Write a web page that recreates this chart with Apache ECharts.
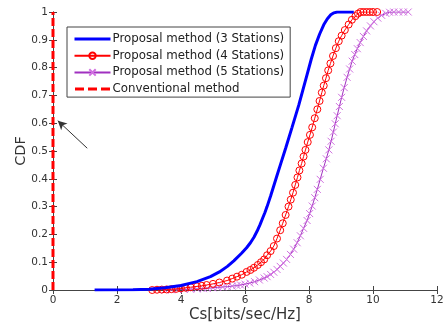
<!DOCTYPE html>
<html><head><meta charset="utf-8">
<script src="https://cdn.jsdelivr.net/npm/echarts@6/dist/echarts.min.js"></script>
<style>html,body{margin:0;padding:0;background:#fff}#c{width:443px;height:329px}</style>
</head><body><div id="c"></div>
<script>
const seriesNames = ['Proposal method (3 Stations)','Proposal method (4 Stations)','Proposal method (5 Stations)','Conventional method'];
const xTicks = [0,2,4,6,8,10,12];
const yTicks = [0,0.1,0.2,0.3,0.4,0.5,0.6,0.7,0.8,0.9,1];
const station3 = [[1.3,0],[2.5,0.001],[3.0,0.003],[3.5,0.008],[4.0,0.016],[4.5,0.03],[4.92,0.048],[5.2,0.065],[5.45,0.085],[5.65,0.105],[5.9,0.133],[6.05,0.152],[6.17,0.17],[6.28,0.19],[6.38,0.212],[6.47,0.235],[6.55,0.258],[6.62,0.278],[6.69,0.3],[6.8,0.338],[6.9,0.375],[7.0,0.412],[7.11,0.452],[7.27,0.51],[7.47,0.585],[7.68,0.665],[7.81,0.72],[7.94,0.775],[8.07,0.83],[8.2,0.88],[8.33,0.92],[8.46,0.954],[8.57,0.975],[8.68,0.99],[8.78,0.997],[8.88,1.0],[9.4,1.0]];
const station4 = [[3.1,0],[3.25,0.001],[3.4,0.0015],[3.55,0.002],[3.7,0.003],[3.85,0.004],[4.0,0.006],[4.15,0.008],[4.3,0.01],[4.5,0.013],[4.65,0.015],[4.8,0.018],[5.0,0.022],[5.2,0.027],[5.44,0.034],[5.6,0.041],[5.75,0.048],[5.9,0.055],[6.05,0.065],[6.17,0.072],[6.28,0.08],[6.4,0.09],[6.5,0.1],[6.6,0.11],[6.69,0.125],[6.8,0.14],[6.9,0.158],[7.0,0.185],[7.1,0.215],[7.18,0.24],[7.27,0.27],[7.36,0.3],[7.43,0.325],[7.5,0.35],[7.57,0.378],[7.64,0.405],[7.7,0.43],[7.77,0.455],[7.83,0.48],[7.89,0.504],[7.96,0.532],[8.03,0.558],[8.1,0.585],[8.18,0.618],[8.26,0.65],[8.33,0.68],[8.4,0.71],[8.46,0.735],[8.53,0.762],[8.6,0.79],[8.67,0.815],[8.75,0.842],[8.84,0.87],[8.93,0.895],[9.02,0.915],[9.12,0.935],[9.24,0.955],[9.34,0.972],[9.45,0.985],[9.53,0.994],[9.61,1.0],[9.7,1.0],[9.8,1.0],[9.9,1.0],[10.0,1.0],[10.13,1.0]];
const station5 = [[3.5,0],[3.7,0.001],[3.9,0.0015],[4.1,0.002],[4.3,0.003],[4.5,0.004],[4.7,0.005],[4.82,0.006],[5.0,0.008],[5.15,0.009],[5.3,0.011],[5.45,0.012],[5.6,0.014],[5.75,0.016],[5.86,0.018],[6.0,0.021],[6.15,0.025],[6.3,0.03],[6.45,0.036],[6.6,0.043],[6.69,0.048],[6.8,0.056],[6.9,0.064],[7.0,0.074],[7.1,0.085],[7.2,0.097],[7.3,0.11],[7.42,0.128],[7.52,0.147],[7.63,0.17],[7.73,0.195],[7.83,0.222],[7.94,0.25],[8.02,0.275],[8.1,0.302],[8.18,0.332],[8.26,0.362],[8.35,0.398],[8.45,0.438],[8.54,0.472],[8.62,0.504],[8.69,0.535],[8.76,0.568],[8.82,0.598],[8.88,0.627],[8.95,0.66],[9.02,0.693],[9.1,0.728],[9.19,0.765],[9.27,0.795],[9.35,0.823],[9.43,0.847],[9.51,0.868],[9.6,0.89],[9.7,0.912],[9.8,0.932],[9.92,0.95],[10.03,0.965],[10.15,0.978],[10.27,0.988],[10.4,0.995],[10.52,0.999],[10.65,1.0],[10.8,1.0],[10.95,1.0],[11.1,1.0]];
const conventional = [[0,0],[0,1]];
const arrowFrom = [1.07,0.51];
const arrowTo = [0.15,0.609];

const FONT = '"DejaVu Sans",sans-serif';
const chart = echarts.init(document.getElementById('c'), null, {renderer:'canvas'});
const axisCommon = {
  axisLine:{show:true,lineStyle:{color:'#444',width:1}},
  axisTick:{show:true,inside:true,length:4,lineStyle:{color:'#444'}},
  splitLine:{show:false}
};
chart.setOption({
  animation:false,
  backgroundColor:'#fff',
  grid:{left:53,right:6,top:12,bottom:39,containLabel:false,outerBoundsMode:'none'},
  legend:{
    orient:'vertical', left:67, top:27,
    backgroundColor:'#fff', borderColor:'#444', borderWidth:1,
    padding:[5,6,1,6.5], itemGap:2.7, itemWidth:36, itemHeight:8,
    symbolKeepAspect:true,
    textStyle:{fontFamily:FONT,fontSize:11.8,lineHeight:14,color:'#222',padding:[0,0,0,-3]},
    data:[
      {name:seriesNames[0],icon:'path://M0,0M0,8M0,2.5L36,2.5L36,5.5L0,5.5Z'},
      {name:seriesNames[1]},
      {name:seriesNames[2]},
      {name:seriesNames[3],icon:'path://M0,0M0,8M0,2.5h9v3h-9zM13,2.5h9v3h-9zM26,2.5h9v3h-9z'}
    ]
  },
  xAxis:[
    Object.assign({type:'value',min:0,max:12,interval:2,position:'bottom',
      name:'Cs[bits/sec/Hz]',nameLocation:'middle',nameGap:18,nameMoveOverlap:false,
      nameTextStyle:{fontFamily:FONT,fontSize:15,color:'#333'},
      axisLabel:{fontFamily:FONT,fontSize:10.5,color:'#333',margin:5}}, axisCommon),
    Object.assign({type:'value',min:0,max:12,interval:2,position:'top',
      axisLabel:{show:false}}, axisCommon)
  ],
  yAxis:[
    Object.assign({type:'value',min:0,max:1,interval:0.1,position:'left',
      name:'CDF',nameLocation:'middle',nameGap:24,nameMoveOverlap:false,
      nameTextStyle:{fontFamily:FONT,fontSize:14.5,color:'#333'},
      axisLabel:{fontFamily:FONT,fontSize:10.5,color:'#333',margin:5,
        formatter:v=>String(+v.toFixed(1))}}, axisCommon),
    Object.assign({type:'value',min:0,max:1,interval:0.1,position:'right',
      axisLabel:{show:false}}, axisCommon)
  ],
  series:[
    {name:seriesNames[0],type:'line',data:station3,symbol:'none',z:4,
      lineStyle:{color:'#0000ff',width:3},itemStyle:{color:'#0000ff'}},
    {name:seriesNames[1],type:'line',data:station4,symbol:'circle',symbolSize:7,z:3,
      lineStyle:{color:'#ff0000',width:1},
      itemStyle:{color:'rgba(0,0,0,0)',borderColor:'#ff0000',borderWidth:1}},
    {name:seriesNames[2],type:'line',data:station5,symbol:'path://M0,0L10,10M10,0L0,10',symbolSize:7,z:2,
      lineStyle:{color:'#a030c0',width:1},
      itemStyle:{color:'rgba(0,0,0,0)',borderColor:'#d070e0',borderWidth:1}},
    {name:seriesNames[3],type:'line',data:conventional,symbol:'none',z:5,
      lineStyle:{color:'#ff0000',width:3,type:[8,3]},itemStyle:{color:'#ff0000'},
      markLine:{silent:true,symbol:['none','arrow'],symbolSize:[7,9],
        label:{show:false},
        lineStyle:{color:'#333',width:1,type:'solid'},
        data:[[{coord:arrowFrom},{coord:arrowTo}]]}}
  ]
});
</script></body></html>
